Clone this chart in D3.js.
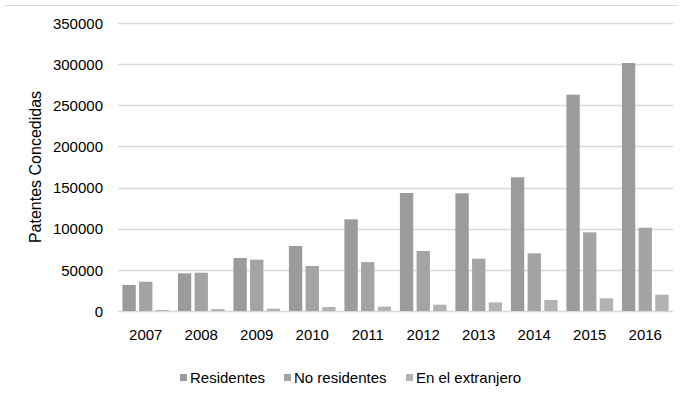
<!DOCTYPE html>
<html>
<head>
<meta charset="utf-8">
<script src="https://cdn.jsdelivr.net/npm/d3@7"></script>
<style>
  body { margin: 0; background: #fff; }
  text { font-family: "Liberation Sans", Arial, sans-serif; fill: #000; }
</style>
</head>
<body>
<script>
var years = ["2007", "2008", "2009", "2010", "2011", "2012", "2013", "2014", "2015", "2016"];
var residentes = [31600, 45800, 64400, 79000, 111400, 143400, 143000, 162500, 262900, 301400];
var noResidentes = [35600, 46500, 62400, 54700, 59500, 72900, 63600, 70100, 95600, 101200];
var enExtranjero = [1200, 2400, 2800, 4900, 5300, 7700, 10500, 13400, 15400, 19800];
var seriesNames = ["Residentes", "No residentes", "En el extranjero"];
var yTicks = [0, 50000, 100000, 150000, 200000, 250000, 300000, 350000];

var colors = ["#9b9b9b", "#a4a4a4", "#b3b3b3"];
var W = 691, H = 396;
var plot = {left: 118, right: 673, top: 23, bottom: 311};

var svg = d3.select("body").append("svg")
    .attr("width", W)
    .attr("height", H);

// faint frame line at the top
svg.append("line")
    .attr("x1", 5).attr("x2", 678)
    .attr("y1", 5.5).attr("y2", 5.5)
    .style("stroke", "#d9d9d9");

var x0 = d3.scaleBand().domain(years).range([plot.left, plot.right]);
var x1 = d3.scaleBand().domain(seriesNames)
    .range([x0.bandwidth() / 2 - 25, x0.bandwidth() / 2 + 25])
    .paddingInner(0.2).paddingOuter(0.1);
var y = d3.scaleLinear().domain([0, 350000]).range([plot.bottom, plot.top]);

// grid
svg.append("g").selectAll("line").data(yTicks).enter().append("line")
    .attr("x1", plot.left).attr("x2", plot.right)
    .attr("y1", function(d) { return Math.round(y(d)) + 0.5; })
    .attr("y2", function(d) { return Math.round(y(d)) + 0.5; })
    .style("stroke", "#d9d9d9")
    .style("stroke-width", 1.5);

// y axis labels
var yAxis = d3.axisLeft(y).tickValues(yTicks).tickSize(0).tickPadding(15)
    .tickFormat(function(d) { return String(d); });
svg.append("g").attr("transform", "translate(" + plot.left + ",0)")
    .call(yAxis)
    .call(function(g) { g.select(".domain").remove(); })
    .selectAll("text").style("font-size", "15px").attr("dy", "0.35em");

// x axis labels
var xAxis = d3.axisBottom(x0).tickSize(0).tickPadding(18);
svg.append("g").attr("transform", "translate(0," + plot.bottom + ")")
    .call(xAxis)
    .call(function(g) { g.select(".domain").remove(); })
    .selectAll("text").style("font-size", "15px");

// bars
var data = years.map(function(yr, i) {
  return {year: yr, vals: [residentes[i], noResidentes[i], enExtranjero[i]]};
});
var groups = svg.append("g").selectAll("g").data(data).enter().append("g")
    .attr("transform", function(d) { return "translate(" + x0(d.year) + ",0)"; });
groups.selectAll("rect")
    .data(function(d) { return d.vals.map(function(v, j) { return {name: seriesNames[j], v: v, j: j}; }); })
    .enter().append("rect")
    .attr("x", function(d) { return x1(d.name); })
    .attr("width", x1.bandwidth())
    .attr("y", function(d) { return y(d.v); })
    .attr("height", function(d) { return plot.bottom - y(d.v); })
    .style("fill", function(d) { return colors[d.j]; });

// y title
svg.append("text")
    .attr("transform", "translate(41,167) rotate(-90)")
    .attr("text-anchor", "middle")
    .style("font-size", "16px")
    .text("Patentes Concedidas");

// legend
var legendX = [180, 284, 406];
var legend = svg.append("g").selectAll("g").data(seriesNames).enter().append("g")
    .attr("transform", function(d, i) { return "translate(" + legendX[i] + ",374)"; });
legend.append("rect")
    .attr("width", 7).attr("height", 7)
    .style("fill", function(d, i) { return colors[i]; });
legend.append("text")
    .attr("x", 10).attr("y", 4).attr("dy", "0.35em")
    .style("font-size", "15px")
    .text(function(d) { return d; });
</script>
</body>
</html>
